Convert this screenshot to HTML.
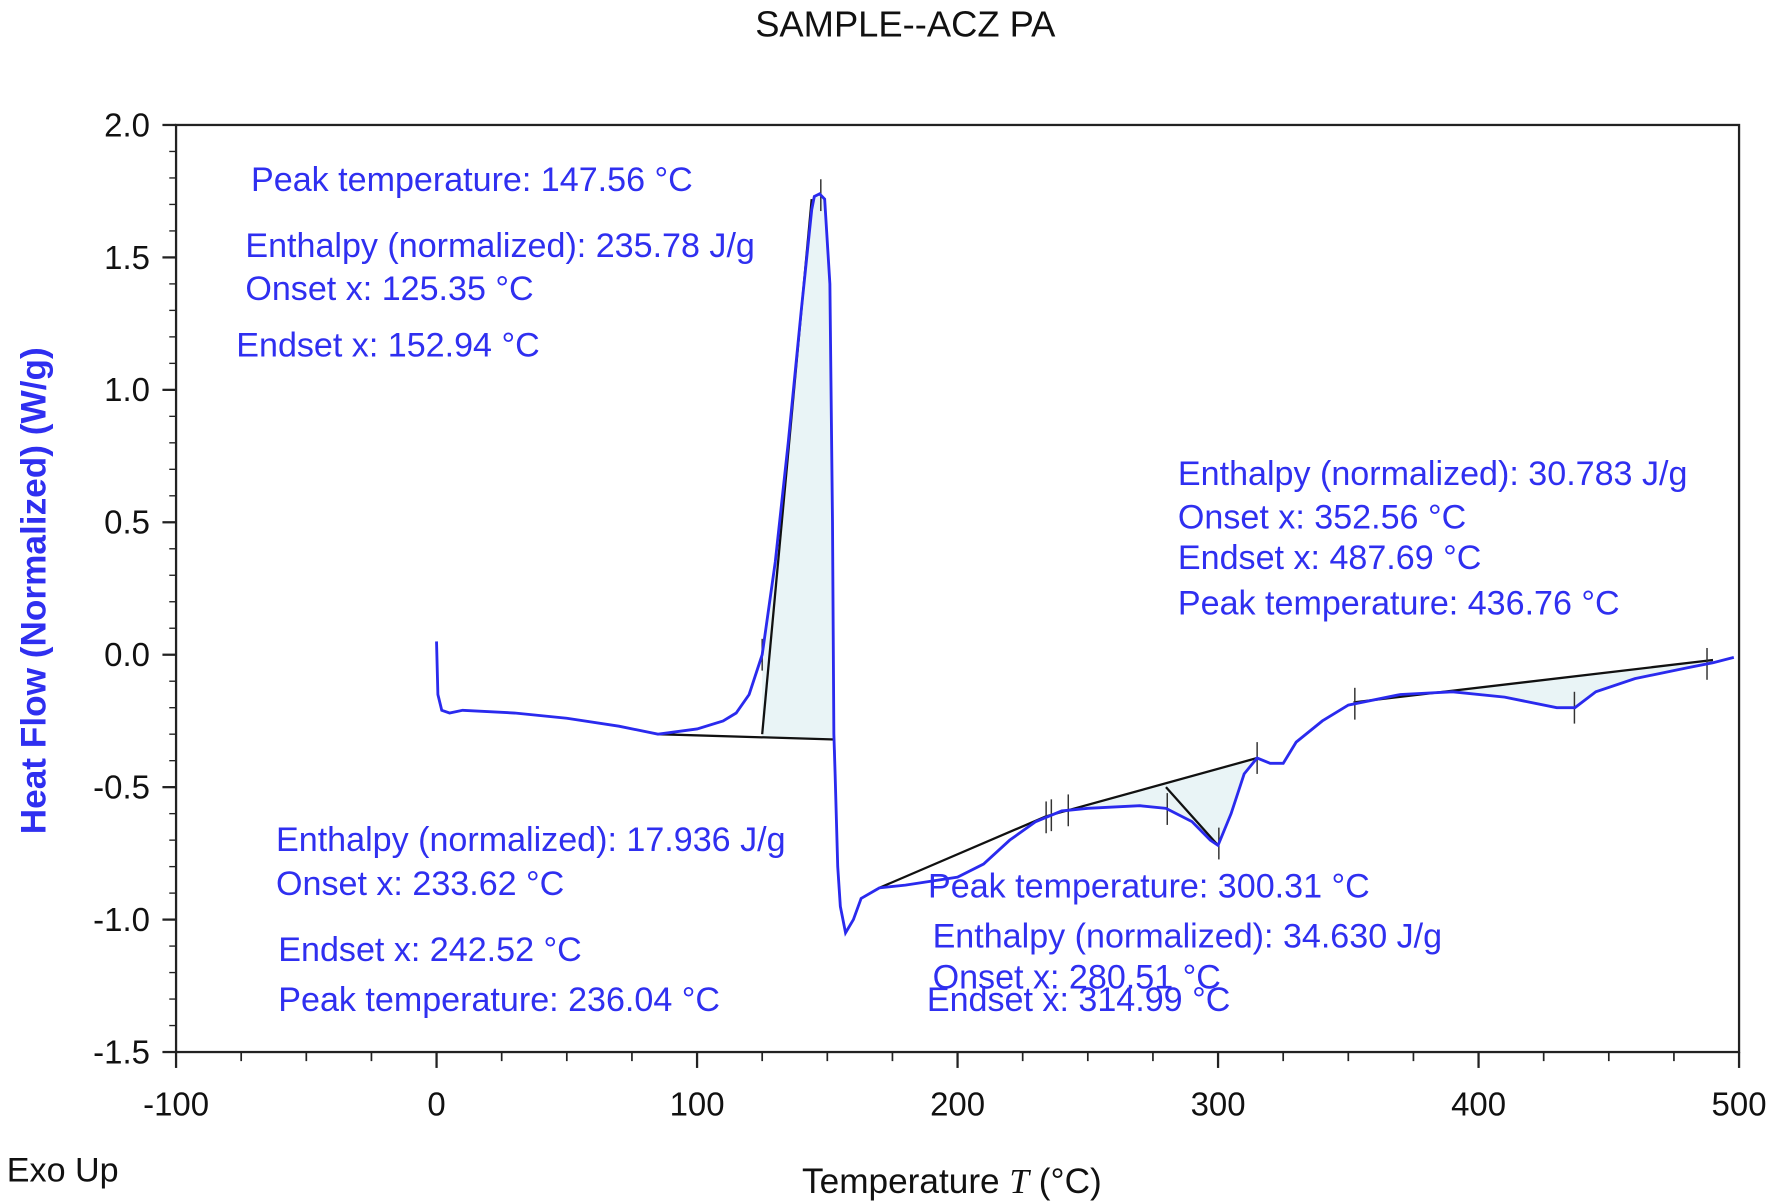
<!DOCTYPE html>
<html><head><meta charset="utf-8"><style>
html,body{margin:0;padding:0;background:#fff;}
svg{display:block;}
text{font-family:"Liberation Sans",sans-serif;}
.ann{fill:#2f2ff0;font-size:30px;}
.tick{font-size:29px;fill:#111;}
</style></head><body>
<svg id="chart" width="1772" height="1202" viewBox="0 0 1560 1058" preserveAspectRatio="none">
<text x="797" y="32" text-anchor="middle" font-size="32" fill="#111">SAMPLE--ACZ  PA</text>
<g id="fills"></g>
<rect x="155" y="110" width="1376" height="816" fill="none" stroke="#222" stroke-width="2"/>
<g id="axes"></g>
<g id="baselines"></g>
<path id="curve" fill="none" stroke="#2a2aee" stroke-width="2.5"/>
<text transform="translate(40,520) rotate(-90)" text-anchor="middle" font-size="31" fill="#2f2ff0" font-weight="bold">Heat Flow (Normalized)  (W/g)</text>
<text x="838" y="1050" text-anchor="middle" font-size="31" fill="#111">Temperature  <tspan font-family="Liberation Serif" font-style="italic">T</tspan> (°C)</text>
<text x="6" y="1040" font-size="30" fill="#111">Exo Up</text>
<g>
<text class="ann" x="221" y="168">Peak temperature: 147.56 °C</text>
<text class="ann" x="216" y="226">Enthalpy (normalized): 235.78 J/g</text>
<text class="ann" x="216" y="264">Onset x: 125.35 °C</text>
<text class="ann" x="208" y="314">Endset x: 152.94 °C</text>
</g>
<g>
<text class="ann" x="1037" y="427">Enthalpy (normalized): 30.783 J/g</text>
<text class="ann" x="1037" y="465">Onset x: 352.56 °C</text>
<text class="ann" x="1037" y="501">Endset x: 487.69 °C</text>
<text class="ann" x="1037" y="541">Peak temperature: 436.76 °C</text>
</g>
<g>
<text class="ann" x="243" y="749">Enthalpy (normalized): 17.936 J/g</text>
<text class="ann" x="243" y="788">Onset x: 233.62 °C</text>
<text class="ann" x="245" y="846">Endset x: 242.52 °C</text>
<text class="ann" x="245" y="890">Peak temperature: 236.04 °C</text>
</g>
<g>
<text class="ann" x="817" y="790">Peak temperature: 300.31 °C</text>
<text class="ann" x="821" y="834">Enthalpy (normalized): 34.630 J/g</text>
<text class="ann" x="821" y="870">Onset x: 280.51 °C</text>
<text class="ann" x="816" y="890">Endset x: 314.99 °C</text>
</g>
</svg>
<script>
const temps=[0,0.5,2,5,10,30,50,70,85,100,110,115,120,125,130,135,140,144,145,147,149,151,152,152.5,153,154,155,157,160,163,170,180,200,210,220,230,240,250,270,280,290,297,300,305,310,315,320,325,330,340,350,370,390,410,430,437,445,460,480,490,498];
const flows=[0.05,-0.15,-0.21,-0.22,-0.21,-0.22,-0.24,-0.27,-0.3,-0.28,-0.25,-0.22,-0.15,0.0,0.35,0.8,1.3,1.68,1.73,1.74,1.72,1.4,0.5,-0.3,-0.45,-0.8,-0.95,-1.05,-1.0,-0.92,-0.88,-0.87,-0.84,-0.79,-0.7,-0.63,-0.59,-0.58,-0.57,-0.58,-0.63,-0.7,-0.72,-0.6,-0.45,-0.39,-0.41,-0.41,-0.33,-0.25,-0.19,-0.15,-0.14,-0.16,-0.2,-0.2,-0.14,-0.09,-0.05,-0.03,-0.01];
const xTicks=[-100,0,100,200,300,400,500];
const yTicks=[2.0,1.5,1.0,0.5,0.0,-0.5,-1.0,-1.5];
const baselineSegs=[[85,-0.3,152.9,-0.32],[125,-0.3,144,1.72],[170,-0.88,234,-0.61],[234,-0.61,315,-0.39],[280,-0.5,300,-0.72],[352,-0.18,490,-0.02]];
const fillRanges=[[125,152.9],[234,315],[352,490]];
const markers=[125,152.9,147.5,234,236,242.5,280.5,300.3,315,352.5,436.8,487.7];
const X=t=>155+(t+100)*1376/600;
const Y=v=>110+(2-v)*816/3.5;
const NS='http://www.w3.org/2000/svg';
function interp(t){for(let i=1;i<temps.length;i++){if(t<=temps[i]){const f=(t-temps[i-1])/(temps[i]-temps[i-1]);return flows[i-1]+f*(flows[i]-flows[i-1]);}}return flows[flows.length-1];}
let d='';temps.forEach((t,i)=>{d+=(i?'L':'M')+X(t).toFixed(1)+','+Y(flows[i]).toFixed(1);});
document.getElementById('curve').setAttribute('d',d);
const axes=document.getElementById('axes');
function mk(tag,attrs,parent){const e=document.createElementNS(NS,tag);for(const k in attrs)e.setAttribute(k,attrs[k]);parent.appendChild(e);return e;}
xTicks.forEach(t=>{
const l=mk('line',{x1:X(t),x2:X(t),y1:926,y2:940,stroke:'#222','stroke-width':2},axes);


const tx=mk('text',{x:X(t),y:982,'text-anchor':'middle',class:'tick'},axes);tx.textContent=t;


});
for(let t=-100;t<=500;t+=25){if(t%100){const l=mk('line',{x1:X(t),x2:X(t),y1:926,y2:934,stroke:'#222','stroke-width':1.5},axes);

}}
yTicks.forEach(v=>{
const l=mk('line',{x1:143,x2:155,y1:Y(v),y2:Y(v),stroke:'#222','stroke-width':2},axes);


const tx=mk('text',{x:132,y:Y(v)+10,'text-anchor':'end',class:'tick'},axes);tx.textContent=v.toFixed(1);


});
for(let i=0;i<=35;i++){const v=2-i*0.1;const l=mk('line',{x1:149,x2:155,y1:Y(v),y2:Y(v),stroke:'#222','stroke-width':1.2},axes);

}
const fills=document.getElementById('fills');
function baseAt(t){for(const s of [baselineSegs[0],baselineSegs[2],baselineSegs[3],baselineSegs[5]]){if(t>=s[0]&&t<=s[2])return s[1]+(t-s[0])/(s[2]-s[0])*(s[3]-s[1]);}return interp(t);}
fillRanges.forEach(r=>{
let p='';const n=60;
for(let i=0;i<=n;i++){const t=r[0]+(r[1]-r[0])*i/n;p+=(i?'L':'M')+X(t)+','+Y(interp(t));}
for(let i=n;i>=0;i--){const t=r[0]+(r[1]-r[0])*i/n;p+='L'+X(t)+','+Y(baseAt(t));}
const f=mk('path',{d:p+'Z',fill:'#e9f4f6',stroke:'none'},fills);


});
const bl=document.getElementById('baselines');
baselineSegs.forEach(s=>{const l=mk('line',{x1:X(s[0]),y1:Y(s[1]),x2:X(s[2]),y2:Y(s[3]),stroke:'#111','stroke-width':2},bl);

});
markers.forEach(t=>{const v=interp(t);const l=mk('line',{x1:X(t),x2:X(t),y1:Y(v)-14,y2:Y(v)+14,stroke:'#333','stroke-width':1.3},bl);

});
</script>
</body></html>
